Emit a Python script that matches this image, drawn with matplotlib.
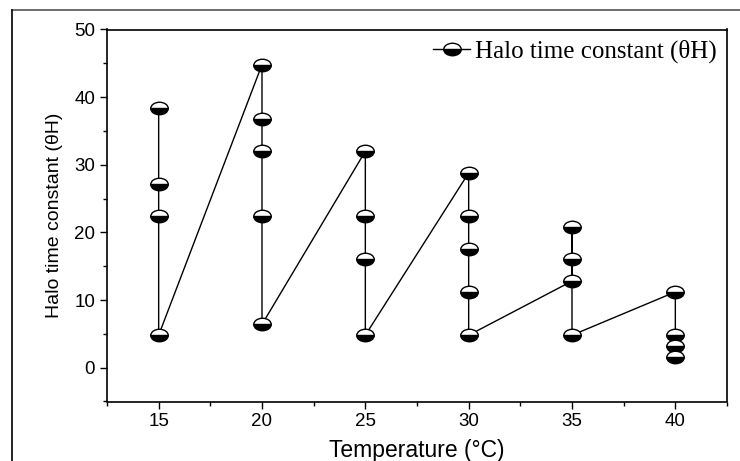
import matplotlib
matplotlib.use('Agg')
import matplotlib.pyplot as plt
from matplotlib.markers import MarkerStyle
from matplotlib.transforms import Affine2D
from matplotlib.lines import Line2D

# temperature (°C) and halo time constant, in the order the points are joined
temperature = [15, 15, 15, 15,
               20, 20, 20, 20, 20,
               25, 25, 25, 25,
               30, 30, 30, 30, 30,
               35, 35, 35, 35,
               40, 40, 40, 40]
halo_theta = [38.4, 27.2, 22.4, 4.8,
              44.8, 36.8, 32.0, 22.4, 6.4,
              32.0, 22.4, 16.0, 4.8,
              28.8, 22.4, 17.6, 11.2, 4.8,
              12.8, 16.0, 20.8, 4.8,
              11.2, 4.8, 3.2, 1.6]
x_ticks = [15, 20, 25, 30, 35, 40]
y_ticks = [0, 10, 20, 30, 40, 50]

plt.rcParams['font.family'] = ['Liberation Sans', 'DejaVu Sans']

fig = plt.figure(figsize=(7.40, 4.61), dpi=100)
ax = fig.add_axes([107 / 740, 1 - 401.5 / 461, 620 / 740, 372 / 461])

# half filled marker, a bit wider than tall
half_ball = MarkerStyle('o', fillstyle='bottom', transform=Affine2D().scale(1.4, 1.0))

ax.plot(temperature, halo_theta, color='black', lw=1.0,
        marker=half_ball, markersize=9, markerfacecolor='black',
        markerfacecoloralt='white', markeredgecolor='black', markeredgewidth=1.0,
        label='Halo time constant (θH)')

ax.set_xlim(12.5, 42.5)
ax.set_ylim(-5, 50)
ax.set_xticks(x_ticks)
ax.set_yticks(y_ticks)
ax.set_xticks([12.5, 17.5, 22.5, 27.5, 32.5, 37.5, 42.5], minor=True)
ax.set_yticks([-5, 5, 15, 25, 35, 45], minor=True)
ax.tick_params(which='both', direction='out', width=1.0, labelsize=13.5)
ax.tick_params(which='major', length=5)
ax.tick_params(which='minor', length=3)
for s in ax.spines.values():
    s.set_linewidth(1.2)

ax.set_xlabel('Temperature (°C)', fontsize=16.5, labelpad=6)
ax.set_ylabel('Halo time constant (θH)', fontsize=14, labelpad=8)

leg = ax.legend(loc='upper right', frameon=False, handlelength=1.5, handletextpad=0.2,
                prop={'family': ['Liberation Serif', 'DejaVu Serif'], 'size': 18},
                borderaxespad=0.0)

# thin frame around the picture (top and left only)
fig.add_artist(Line2D([12 / 740, 1], [1 - 10 / 461, 1 - 10 / 461],
                      transform=fig.transFigure, color='#555555', lw=1.2))
fig.add_artist(Line2D([12 / 740, 12 / 740], [0, 1 - 10 / 461],
                      transform=fig.transFigure, color='black', lw=1.2))

fig.savefig('out.png', dpi=100)
